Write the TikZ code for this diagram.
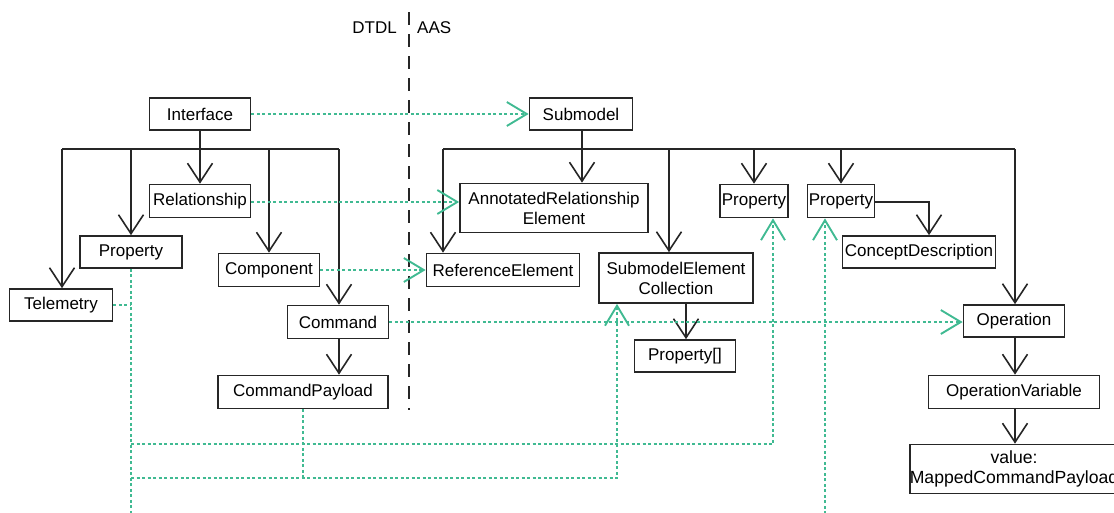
\documentclass[tikz,border=0pt]{standalone}
\usepackage{fontspec}
\setmainfont{Liberation Sans}
\usetikzlibrary{arrows.meta}
\definecolor{mapgreen}{RGB}{64,186,146}
\begin{document}
\begin{tikzpicture}[x=1pt,y=-1pt,
  box/.style={draw=black!85,line width=1.7pt,inner sep=0pt,font=\fontsize{17}{20}\selectfont,align=center},
  lbl/.style={inner sep=0pt,font=\fontsize{17}{20}\selectfont},
  inh/.style={draw=black!85,line width=1.6pt,-{Straight Barb[length=19pt,width=25pt,line width=1.6pt]}},
  tree/.style={draw=black!85,line width=1.6pt},
  mapline/.style={draw=mapgreen,line width=1.5pt,dash pattern=on 3pt off 2.5pt},
  maparr/.style={mapline,-{Straight Barb[length=20pt,width=24pt,line width=1.9pt]}},
  divider/.style={draw=black!85,line width=1.6pt,dash pattern=on 13pt off 9pt}]
\useasboundingbox (0,0) rectangle (1114,512);

% divider and headings
\coordinate (divT) at (409,12);
\coordinate (divB) at (409,410);
\draw[divider] (divT) -- (divB);
\node[lbl,anchor=east] (dtdl) at (397,28) {DTDL};
\node[lbl,anchor=west] (aas) at (417,28) {AAS};

% DTDL nodes
\node[box,minimum width=101pt,minimum height=32pt] (iface) at (200,114) {Interface};
\node[box,minimum width=101pt,minimum height=33pt] (rel) at (200,201) {Relationship};
\node[box,minimum width=102pt,minimum height=32pt] (dprop) at (131,252) {Property};
\node[box,minimum width=101pt,minimum height=33pt] (comp) at (269,270) {Component};
\node[box,minimum width=103pt,minimum height=32pt] (tele) at (61,305) {Telemetry};
\node[box,minimum width=101pt,minimum height=33pt] (cmd) at (338,322) {Command};
\node[box,minimum width=170pt,minimum height=33pt] (cpay) at (303,392) {CommandPayload};

% AAS nodes
\node[box,minimum width=103pt,minimum height=32pt] (sub) at (581,114) {Submodel};
\node[box,minimum width=188pt,minimum height=49pt] (are) at (554,208) {AnnotatedRelationship\\Element};
\node[box,minimum width=68pt,minimum height=33pt] (aprop1) at (754,201) {Property};
\node[box,minimum width=153pt,minimum height=33pt] (refel) at (503,270) {ReferenceElement};
\node[box,minimum width=154pt,minimum height=50pt] (sec) at (676,278) {SubmodelElement\\Collection};
\node[box,minimum width=101pt,minimum height=32pt] (parr) at (685,356) {Property[]};
\node[box,minimum width=67pt,minimum height=33pt] (aprop2) at (841,201) {Property};
\node[box,minimum width=153pt,minimum height=32pt] (cdesc) at (919,252) {ConceptDescription};
\node[box,minimum width=101pt,minimum height=32pt] (op) at (1014,321) {Operation};
\node[box,minimum width=171pt,minimum height=33pt] (opvar) at (1014,392) {OperationVariable};
\node[box,minimum width=207pt,minimum height=49pt,font=\fontsize{17.6}{20}\selectfont] (val) at (1014,469) {value:\\MappedCommandPayload};

% DTDL tree
\coordinate (dbarL) at (62,149);
\coordinate (dbarR) at (339,149);
\draw[tree] (dbarL) -- (dbarR);
\draw[tree] (iface.south) -- (iface.south |- dbarL);
\draw[inh] (dbarL) -- (tele.north -| dbarL);
\draw[inh] (dprop.north |- dbarL) -- (dprop.north);
\draw[inh] (rel.north |- dbarL) -- (rel.north);
\draw[inh] (comp.north |- dbarL) -- (comp.north);
\draw[inh] (dbarR) -- (cmd.north -| dbarR);
\draw[inh] (cmd.south -| dbarR) -- (cpay.north -| dbarR);

% AAS tree
\coordinate (abarL) at (443,149);
\coordinate (abarR) at (1015,149);
\coordinate (secb) at (669,149);
\coordinate (areb) at (582,149);
\draw[tree] (abarL) -- (abarR);
\draw[tree] (sub.south -| areb) -- (areb);
\draw[inh] (abarL) -- (refel.north -| abarL);
\draw[inh] (areb) -- (are.north -| areb);
\draw[inh] (secb) -- (sec.north -| secb);
\draw[inh] (aprop1.north |- abarL) -- (aprop1.north);
\draw[inh] (aprop2.north |- abarL) -- (aprop2.north);
\draw[inh] (abarR) -- (op.north -| abarR);
\coordinate (cdx) at (929,202);
\draw[inh] (aprop2.east |- cdx) -| (cdesc.north -| cdx);
\coordinate (parx) at (686,300);
\draw[inh] (sec.south -| parx) -- (parr.north -| parx);
\draw[inh] (op.south -| abarR) -- (opvar.north -| abarR);
\draw[inh] (opvar.south -| abarR) -- (val.north -| abarR);

% mappings
\draw[maparr] (iface.east) -- (sub.west);
\draw[maparr] (rel.east |- cdx) -- (are.west |- cdx);
\draw[maparr] (comp.east) -- (comp.east -| refel.west);
\draw[maparr] (cmd.east) -- (cmd.east -| op.west);

\coordinate (ptop) at (131,268);
\coordinate (pbot) at (131,514);
\coordinate (j1) at (131,444);
\coordinate (j2) at (131,478);
\coordinate (a1x) at (773,444);
\coordinate (secx) at (617,478);
\coordinate (p2bot) at (825,514);
\draw[mapline] (dprop.south -| ptop) -- (pbot);
\draw[mapline] (tele.east) -- (tele.east -| ptop);
\draw[maparr] (j1) -- (a1x) -- (a1x |- aprop1.south);
\draw[maparr] (j2) -- (secx) -- (secx |- sec.south);
\draw[mapline] (cpay.south) -- (cpay.south |- j2);
\draw[maparr] (p2bot) -- (p2bot |- aprop2.south);
\end{tikzpicture}
\end{document}
